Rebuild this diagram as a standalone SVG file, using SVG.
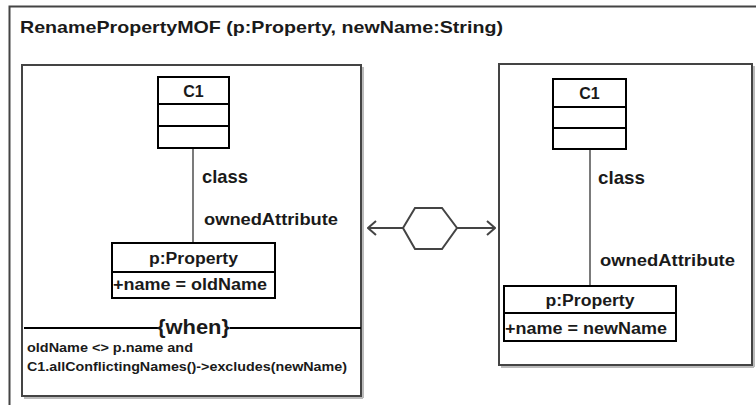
<svg xmlns="http://www.w3.org/2000/svg" width="756" height="405" viewBox="0 0 756 405">
<style>
.frame{fill:none;stroke:#444;stroke-width:2}
.shadow{fill:none;stroke:#bbb;stroke-width:2}
.box{fill:#fff;stroke:#000;stroke-width:2}
.div{stroke:#000;stroke-width:2}
.edge{stroke:#333;stroke-width:1.3;fill:none}
.t{font-family:"Liberation Sans",Arial,sans-serif;font-weight:bold;fill:#1a1a1a}
.arr{stroke:#444;stroke-width:2;fill:none}
</style>
<defs>
<marker id="chev" viewBox="0 0 10 16" refX="9" refY="8" markerWidth="10" markerHeight="16" markerUnits="userSpaceOnUse" orient="auto">
<path d="M1,1 L9,8 L1,15" fill="none" stroke="#444" stroke-width="2"/>
</marker>
</defs>
<rect x="0" y="0" width="756" height="405" fill="#fff"/>
<g id="outer-frame">
<rect class="frame" x="9.5" y="6.5" width="800" height="450"/>
<text class="t" x="20" y="33" font-size="16.5" textLength="483" lengthAdjust="spacingAndGlyphs">RenamePropertyMOF (p:Property, newName:String)</text>
</g>
<g id="lhs">
<line class="shadow" x1="24" y1="398" x2="363" y2="398"/>
<line class="shadow" x1="363" y1="67" x2="363" y2="398"/>
<rect class="frame" x="22" y="65" width="339" height="331" fill="#fff"/>
<line x1="24" y1="328" x2="158" y2="328" stroke="#000" stroke-width="2"/>
<line x1="230" y1="328" x2="361" y2="328" stroke="#000" stroke-width="2"/>
<text class="t" x="193.5" y="334" font-size="20" text-anchor="middle" textLength="73" lengthAdjust="spacingAndGlyphs" style="font-weight:600">{when}</text>
<text class="t" x="27" y="352" font-size="13.5" textLength="166" lengthAdjust="spacingAndGlyphs">oldName &lt;&gt; p.name and</text>
<text class="t" x="27" y="371" font-size="13.5" textLength="320" lengthAdjust="spacingAndGlyphs">C1.allConflictingNames()-&gt;excludes(newName)</text>
</g>
<g id="rhs">
<line class="shadow" x1="501" y1="367" x2="754" y2="367"/>
<line class="shadow" x1="754" y1="66" x2="754" y2="367"/>
<rect class="frame" x="499" y="64" width="253" height="301" fill="#fff"/>
</g>
<g id="connectors">
<line class="edge" x1="193" y1="148" x2="193" y2="243"/>
<text class="t" x="202" y="183" font-size="19" textLength="46" lengthAdjust="spacingAndGlyphs">class</text>
<text class="t" x="204" y="225" font-size="16" textLength="134" lengthAdjust="spacingAndGlyphs">ownedAttribute</text>
<line class="edge" x1="590" y1="149" x2="590" y2="286"/>
<text class="t" x="598" y="184" font-size="19" textLength="47" lengthAdjust="spacingAndGlyphs">class</text>
<text class="t" x="600" y="266" font-size="16" textLength="135" lengthAdjust="spacingAndGlyphs">ownedAttribute</text>
<line class="arr" x1="403" y1="228" x2="368" y2="228" marker-end="url(#chev)"/>
<line class="arr" x1="457" y1="228" x2="495" y2="228" marker-end="url(#chev)"/>
</g>
<g id="transformation">
<polygon class="arr" points="403,228 415,208 442,208 457,228 442,249 415,249"/>
</g>
<g id="lhs-C1">
<rect class="box" x="158" y="77" width="71" height="71"/>
<line class="div" x1="158" y1="104" x2="229" y2="104"/>
<line class="div" x1="158" y1="126" x2="229" y2="126"/>
<text class="t" x="193.5" y="97" font-size="16" text-anchor="middle">C1</text>
</g>
<g id="lhs-p">
<rect class="box" x="112" y="243" width="163" height="55"/>
<line class="div" x1="112" y1="272" x2="275" y2="272"/>
<text class="t" x="193.5" y="264" font-size="16" text-anchor="middle" textLength="89" lengthAdjust="spacingAndGlyphs">p:Property</text>
<text class="t" x="113" y="290" font-size="17" textLength="154" lengthAdjust="spacingAndGlyphs">+name = oldName</text>
</g>
<g id="rhs-C1">
<rect class="box" x="553" y="79" width="73" height="70"/>
<line class="div" x1="553" y1="107" x2="626" y2="107"/>
<line class="div" x1="553" y1="128" x2="626" y2="128"/>
<text class="t" x="589.5" y="99" font-size="16" text-anchor="middle">C1</text>
</g>
<g id="rhs-p">
<rect class="box" x="504" y="286" width="172" height="55"/>
<line class="div" x1="504" y1="313" x2="676" y2="313"/>
<text class="t" x="590" y="306" font-size="16" text-anchor="middle" textLength="89" lengthAdjust="spacingAndGlyphs">p:Property</text>
<text class="t" x="505" y="334" font-size="17" textLength="162" lengthAdjust="spacingAndGlyphs">+name = newName</text>
</g>
</svg>
